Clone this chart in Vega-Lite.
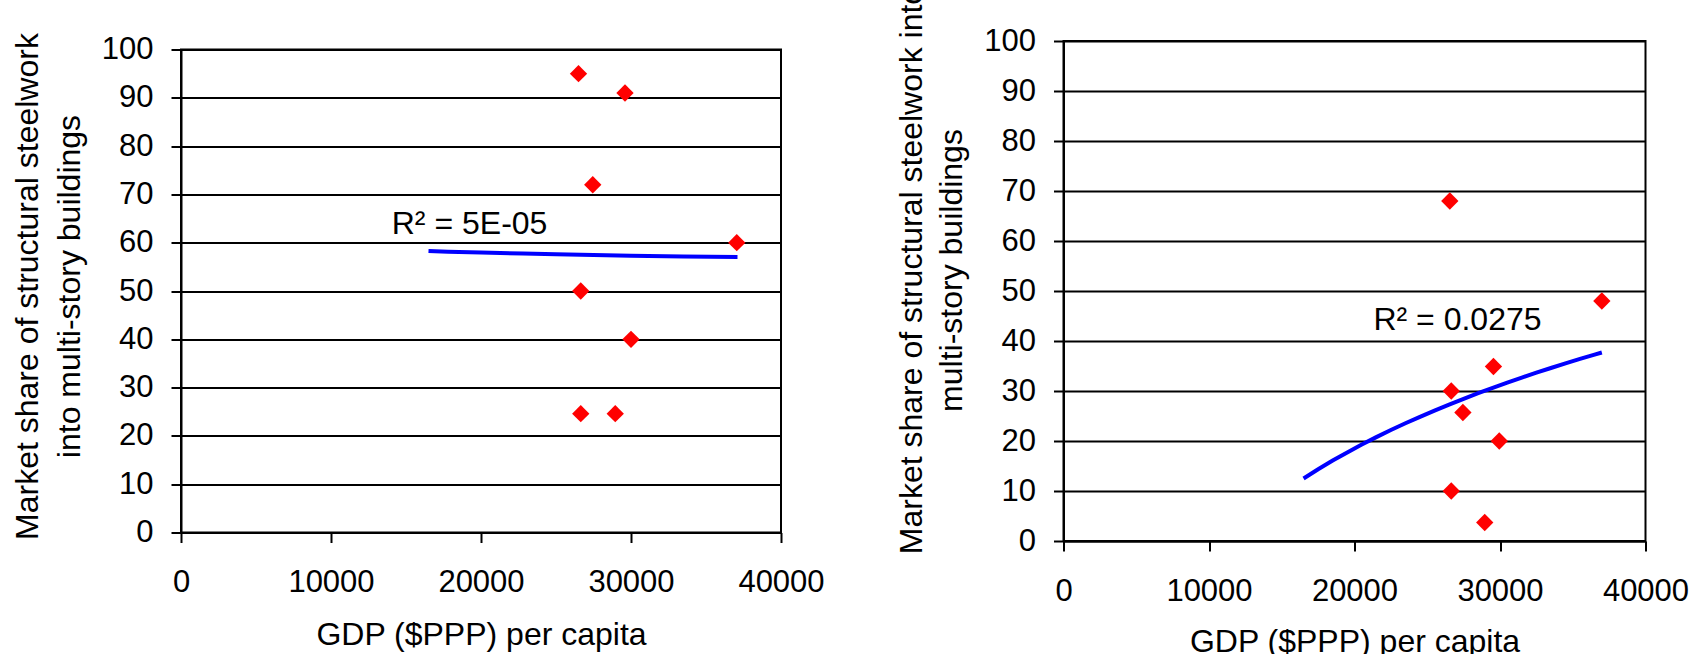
{
  "$schema": "https://vega.github.io/schema/vega-lite/v6.json",
  "autosize": "none",
  "padding": {"left": 181, "top": 41, "right": 1519, "bottom": 613},
  "background": "white",
  "bounds": "flush",
  "center": true,
  "spacing": 282.5,
  "datasets": {
    "left_points": [
      {"gdp": 26500, "share": 95},
      {"gdp": 29600, "share": 91},
      {"gdp": 27450, "share": 72},
      {"gdp": 37050, "share": 60},
      {"gdp": 26650, "share": 50},
      {"gdp": 30000, "share": 40},
      {"gdp": 26650, "share": 24.6},
      {"gdp": 28950, "share": 24.6}
    ],
    "left_trend": [
      {"gdp": 16500, "share": 58.3},
      {"gdp": 17800, "share": 58.15},
      {"gdp": 20000, "share": 57.95},
      {"gdp": 22800, "share": 57.75},
      {"gdp": 25000, "share": 57.6},
      {"gdp": 27500, "share": 57.45},
      {"gdp": 30000, "share": 57.3},
      {"gdp": 33500, "share": 57.15},
      {"gdp": 37100, "share": 57.05}
    ],
    "left_label": [
      {"gdp": 14050, "share": 61.9, "label": "R² = 5E-05"}
    ],
    "right_points": [
      {"gdp": 26550, "share": 68},
      {"gdp": 26650, "share": 30},
      {"gdp": 27450, "share": 25.7},
      {"gdp": 28950, "share": 3.7},
      {"gdp": 29550, "share": 34.9},
      {"gdp": 26650, "share": 10},
      {"gdp": 29950, "share": 20},
      {"gdp": 37000, "share": 48}
    ],
    "right_trend": [
      {"gdp": 16500, "share": 12.5},
      {"gdp": 17500, "share": 14.34},
      {"gdp": 18500, "share": 16.08},
      {"gdp": 19500, "share": 17.72},
      {"gdp": 20500, "share": 19.28},
      {"gdp": 21500, "share": 20.77},
      {"gdp": 22500, "share": 22.19},
      {"gdp": 23500, "share": 23.54},
      {"gdp": 24500, "share": 24.84},
      {"gdp": 25500, "share": 26.09},
      {"gdp": 26500, "share": 27.29},
      {"gdp": 27500, "share": 28.44},
      {"gdp": 28500, "share": 29.56},
      {"gdp": 29500, "share": 30.63},
      {"gdp": 30500, "share": 31.68},
      {"gdp": 31500, "share": 32.68},
      {"gdp": 32500, "share": 33.66},
      {"gdp": 33500, "share": 34.6},
      {"gdp": 34500, "share": 35.52},
      {"gdp": 35500, "share": 36.41},
      {"gdp": 36500, "share": 37.28},
      {"gdp": 37000, "share": 37.7}
    ],
    "right_label": [
      {"gdp": 21300, "share": 42.2, "label": "R² = 0.0275"}
    ]
  },
  "config": {
    "font": "Liberation Sans",
    "view": {"stroke": "#000000", "strokeWidth": 2},
    "axis": {
      "labelFont": "Liberation Sans",
      "labelFontSize": 31,
      "labelColor": "#000000",
      "titleFont": "Liberation Sans",
      "titleFontSize": 32,
      "titleFontWeight": "normal",
      "titleColor": "#000000",
      "domainColor": "#000000",
      "domainWidth": 2,
      "tickColor": "#000000",
      "tickWidth": 2,
      "tickSize": 10,
      "gridColor": "#000000",
      "gridWidth": 2,
      "gridOpacity": 1,
      "labelFlush": false,
      "labelOverlap": false
    }
  },
  "hconcat": [
    {
      "width": 600,
      "height": 483,
      "layer": [
        {
          "data": {"name": "left_trend"},
          "mark": {"type": "line", "color": "#0000FF", "strokeWidth": 4},
          "encoding": {
            "x": {"field": "gdp", "type": "quantitative", "scale": {"domain": [0, 40000], "nice": false},
              "axis": {"values": [0, 10000, 20000, 30000, 40000], "format": "d", "grid": false, "title": "GDP ($PPP) per capita",
                "labelBaseline": "alphabetic", "labelPadding": 49, "titleY": 112, "titleBaseline": "alphabetic"}},
            "y": {"field": "share", "type": "quantitative", "scale": {"domain": [0, 100], "nice": false},
              "axis": {"values": [0, 10, 20, 30, 40, 50, 60, 70, 80, 90, 100], "grid": true,
                "title": ["Market share of structural steelwork", "into multi-story buildings"],
                "titleX": -144, "titleY": 236.5, "titleBaseline": "alphabetic", "titleAlign": "center", "titleAngle": 270, "titleLineHeight": 42,
                "labelPadding": 18}}
          }
        },
        {
          "data": {"name": "left_points"},
          "mark": {"type": "point", "shape": "diamond", "filled": true, "color": "#FF0000", "size": 300, "opacity": 1, "strokeWidth": 0},
          "encoding": {
            "x": {"field": "gdp", "type": "quantitative"},
            "y": {"field": "share", "type": "quantitative"}
          }
        },
        {
          "data": {"name": "left_label"},
          "mark": {"type": "text", "align": "left", "baseline": "alphabetic", "fontSize": 32, "font": "Liberation Sans", "color": "#000000"},
          "encoding": {
            "x": {"field": "gdp", "type": "quantitative"},
            "y": {"field": "share", "type": "quantitative"},
            "text": {"field": "label"}
          }
        }
      ]
    },
    {
      "width": 582,
      "height": 500,
      "layer": [
        {
          "data": {"name": "right_trend"},
          "mark": {"type": "line", "color": "#0000FF", "strokeWidth": 4},
          "encoding": {
            "x": {"field": "gdp", "type": "quantitative", "scale": {"domain": [0, 40000], "nice": false},
              "axis": {"values": [0, 10000, 20000, 30000, 40000], "format": "d", "grid": false, "title": "GDP ($PPP) per capita",
                "labelBaseline": "alphabetic", "labelPadding": 49, "titleY": 110, "titleBaseline": "alphabetic"}},
            "y": {"field": "share", "type": "quantitative", "scale": {"domain": [0, 100], "nice": false},
              "axis": {"values": [0, 10, 20, 30, 40, 50, 60, 70, 80, 90, 100], "grid": true,
                "title": ["Market share of structural steelwork into", "multi-story buildings"],
                "titleX": -142.5, "titleY": 229, "titleBaseline": "alphabetic", "titleAlign": "center", "titleAngle": 270, "titleLineHeight": 40,
                "labelPadding": 18}}
          }
        },
        {
          "data": {"name": "right_points"},
          "mark": {"type": "point", "shape": "diamond", "filled": true, "color": "#FF0000", "size": 300, "opacity": 1, "strokeWidth": 0},
          "encoding": {
            "x": {"field": "gdp", "type": "quantitative"},
            "y": {"field": "share", "type": "quantitative"}
          }
        },
        {
          "data": {"name": "right_label"},
          "mark": {"type": "text", "align": "left", "baseline": "alphabetic", "fontSize": 32, "font": "Liberation Sans", "color": "#000000"},
          "encoding": {
            "x": {"field": "gdp", "type": "quantitative"},
            "y": {"field": "share", "type": "quantitative"},
            "text": {"field": "label"}
          }
        }
      ]
    }
  ]
}
